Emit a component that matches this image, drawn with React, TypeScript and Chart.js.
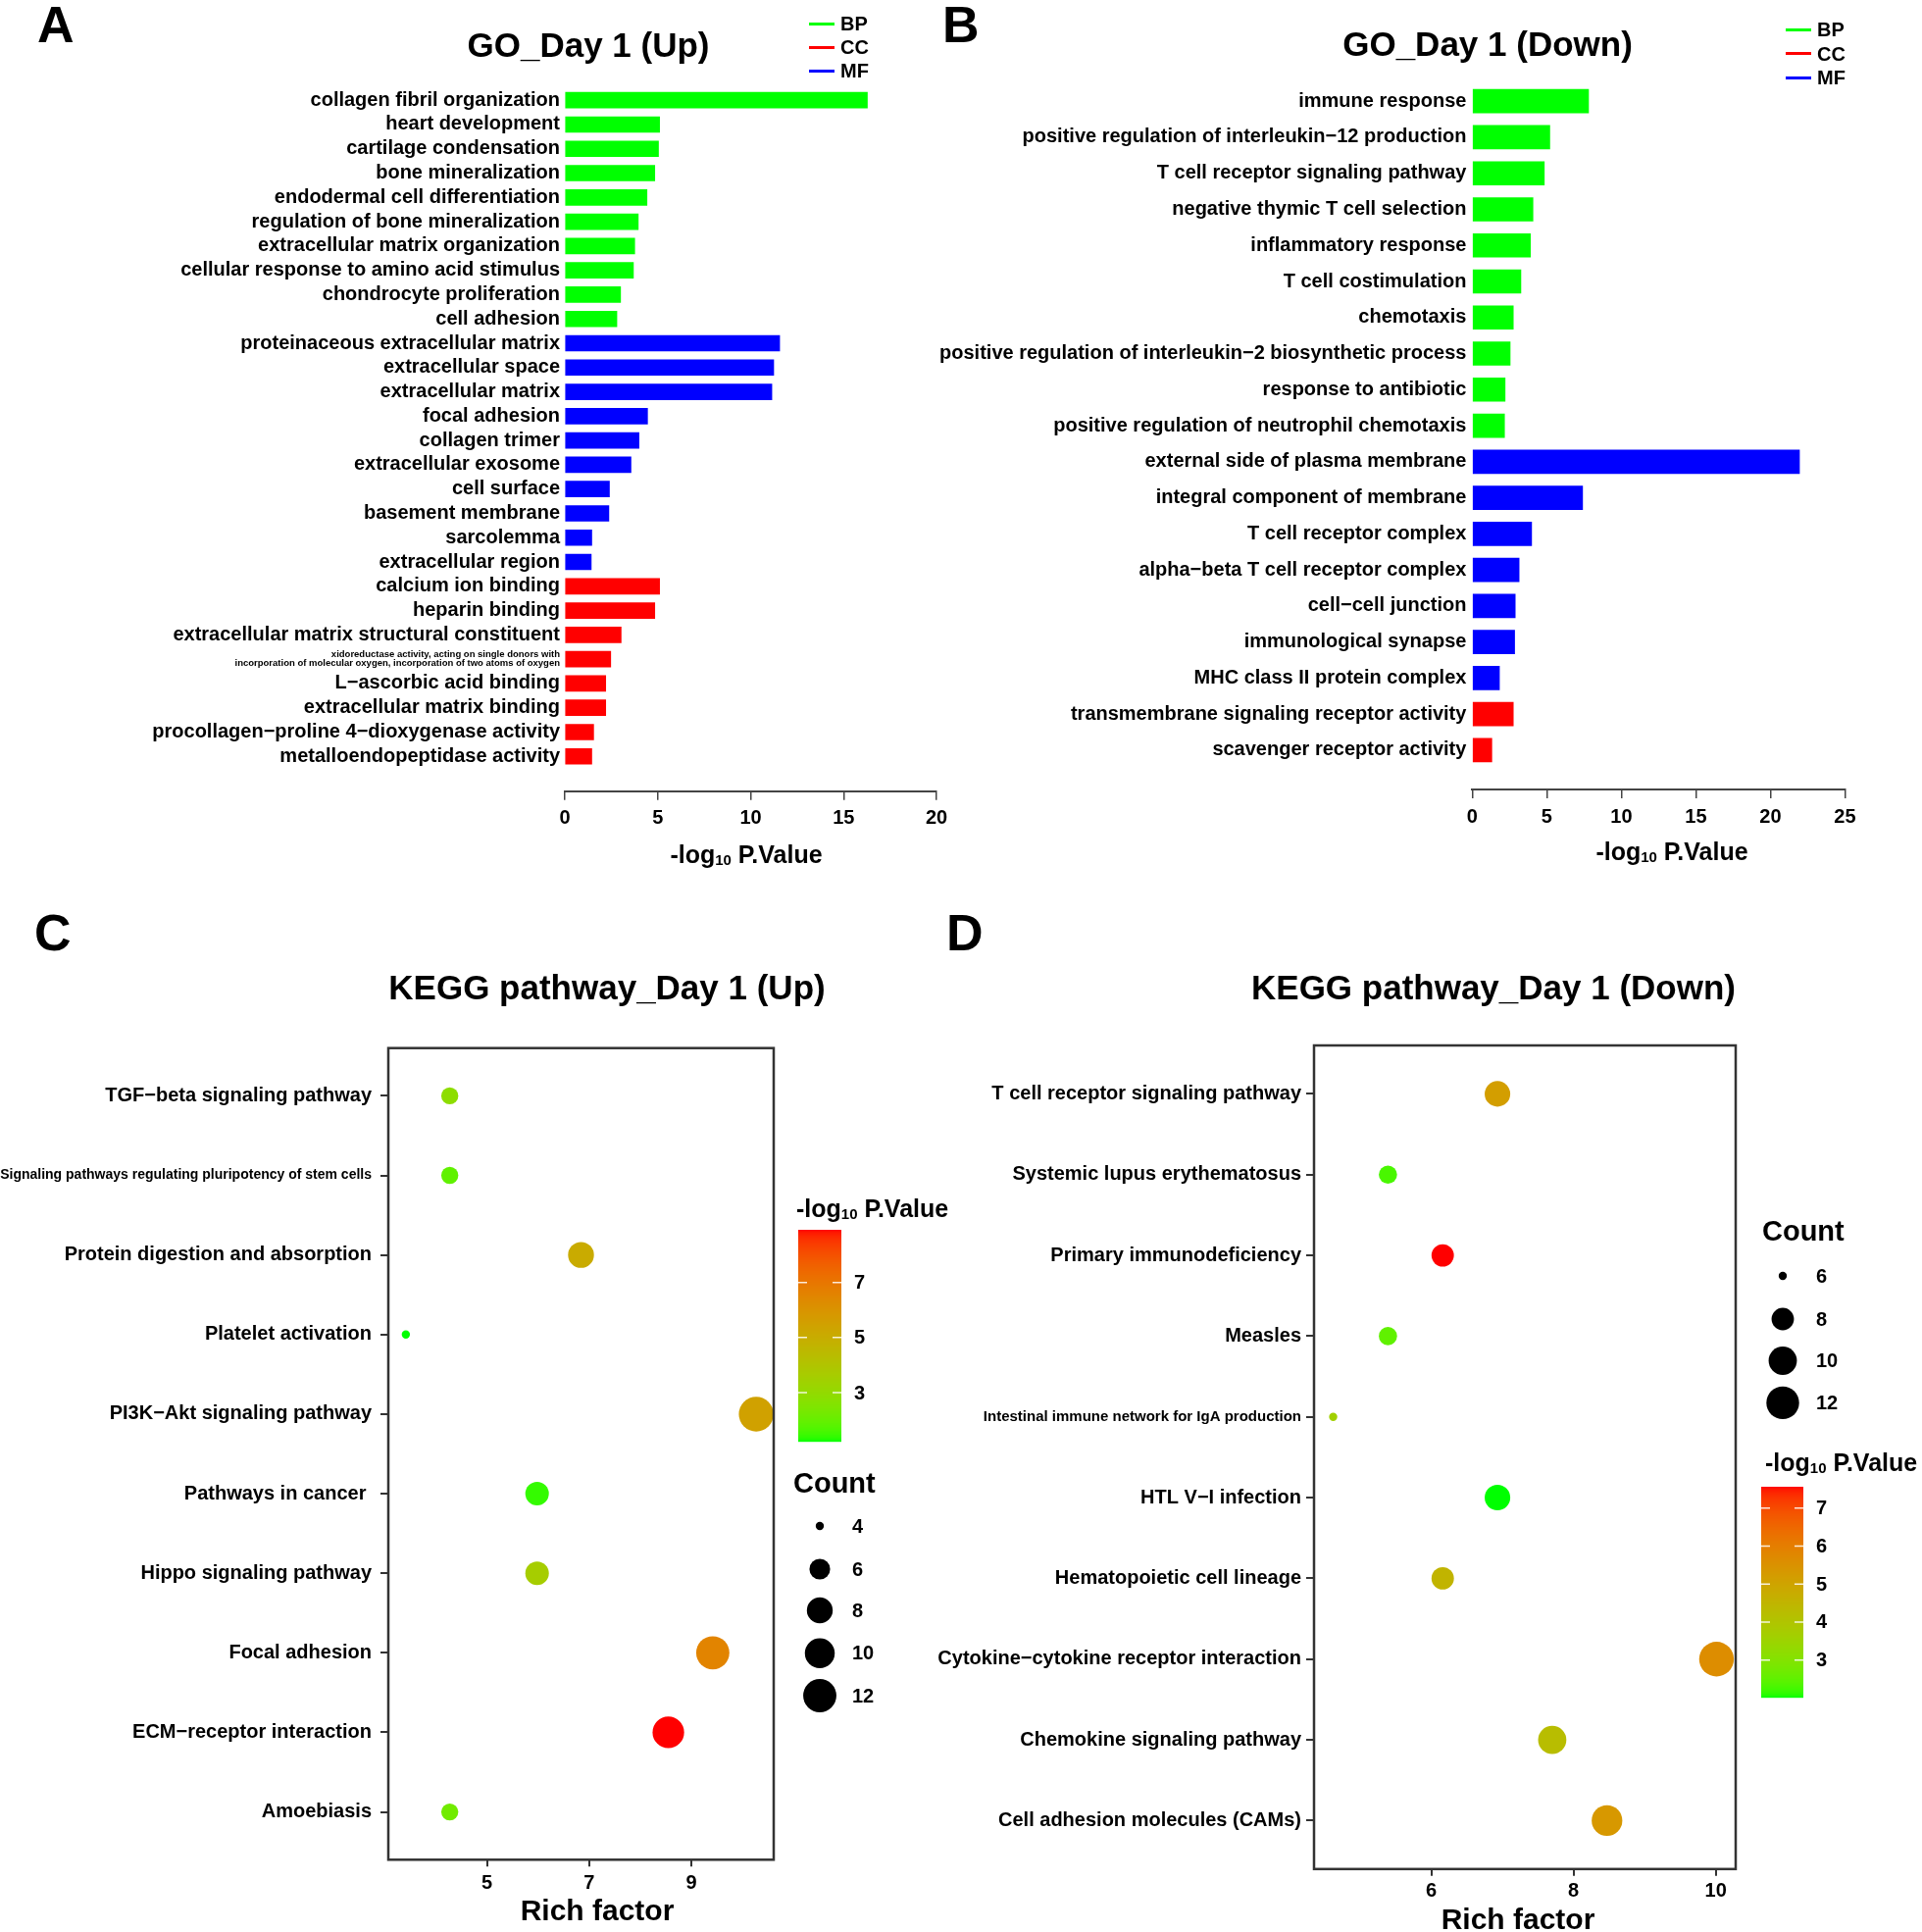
import React, { useEffect, useRef } from "react";
import { Chart, registerables } from "chart.js";
Chart.register(...registerables);

const FONT = '"Liberation Sans", Arial, Helvetica, sans-serif';

// ---------------- Panel A: GO Day 1 (Up) ----------------
const goUpTerms = [
  "collagen fibril organization",
  "heart development",
  "cartilage condensation",
  "bone mineralization",
  "endodermal cell differentiation",
  "regulation of bone mineralization",
  "extracellular matrix organization",
  "cellular response to amino acid stimulus",
  "chondrocyte proliferation",
  "cell adhesion",
  "proteinaceous extracellular matrix",
  "extracellular space",
  "extracellular matrix",
  "focal adhesion",
  "collagen trimer",
  "extracellular exosome",
  "cell surface",
  "basement membrane",
  "sarcolemma",
  "extracellular region",
  "calcium ion binding",
  "heparin binding",
  "extracellular matrix structural constituent",
  "xidoreductase activity, acting on single donors with\nincorporation of molecular oxygen, incorporation of two atoms of oxygen",
  "L\u2212ascorbic acid binding",
  "extracellular matrix binding",
  "procollagen\u2212proline 4\u2212dioxygenase activity",
  "metalloendopeptidase activity",
];
const goUpValues = [
  16.28, 5.1, 5.04, 4.84, 4.42, 3.95, 3.76, 3.69, 3.0, 2.8,
  11.56, 11.24, 11.14, 4.45, 3.99, 3.56, 2.4, 2.37, 1.45, 1.42,
  5.1, 4.84, 3.03, 2.47, 2.2, 2.2, 1.55, 1.45,
];
const goUpGroups = [
  "BP", "BP", "BP", "BP", "BP", "BP", "BP", "BP", "BP", "BP",
  "MF", "MF", "MF", "MF", "MF", "MF", "MF", "MF", "MF", "MF",
  "CC", "CC", "CC", "CC", "CC", "CC", "CC", "CC",
];
const goUpTicks = [0, 5, 10, 15, 20];

// ---------------- Panel B: GO Day 1 (Down) ----------------
const goDownTerms = [
  "immune response",
  "positive regulation of interleukin\u221212 production",
  "T cell receptor signaling pathway",
  "negative thymic T cell selection",
  "inflammatory response",
  "T cell costimulation",
  "chemotaxis",
  "positive regulation of interleukin\u22122 biosynthetic process",
  "response to antibiotic",
  "positive regulation of neutrophil chemotaxis",
  "external side of plasma membrane",
  "integral component of membrane",
  "T cell receptor complex",
  "alpha\u2212beta T cell receptor complex",
  "cell\u2212cell junction",
  "immunological synapse",
  "MHC class II protein complex",
  "transmembrane signaling receptor activity",
  "scavenger receptor activity",
];
const goDownValues = [
  7.8, 5.2, 4.83, 4.07, 3.9, 3.26, 2.75, 2.54, 2.2, 2.16,
  21.95, 7.4, 3.98, 3.14, 2.88, 2.84, 1.82,
  2.75, 1.31,
];
const goDownGroups = [
  "BP", "BP", "BP", "BP", "BP", "BP", "BP", "BP", "BP", "BP",
  "MF", "MF", "MF", "MF", "MF", "MF", "MF",
  "CC", "CC",
];
const goDownTicks = [0, 5, 10, 15, 20, 25];

const goLegendGroups = ["BP", "CC", "MF"];
const GROUP_COLORS: Record<string, string> = { BP: "#00ff00", CC: "#ff0000", MF: "#0000ff" };

// ---------------- Panel C: KEGG Day 1 (Up) ----------------
const keggUpPathways = [
  "TGF\u2212beta signaling pathway",
  "Signaling pathways regulating pluripotency of stem cells",
  "Protein digestion and absorption",
  "Platelet activation",
  "PI3K\u2212Akt signaling pathway",
  "Pathways in cancer ",
  "Hippo signaling pathway",
  "Focal adhesion",
  "ECM\u2212receptor interaction",
  "Amoebiasis",
];
const keggUpRich = [4.27, 4.27, 6.84, 3.41, 10.27, 5.98, 5.98, 9.42, 8.55, 4.27];
const keggUpCount = [5, 5, 8, 4, 13, 7, 7, 12, 11, 5];
const keggUpLogP = [2.84, 1.9, 5.07, 1.22, 5.45, 1.42, 3.6, 6.53, 8.91, 2.2];
const keggUpXTicks = [5, 7, 9];
const keggUpColorTicks = [3, 5, 7];
const keggUpCountBreaks = [4, 6, 8, 10, 12];

// ---------------- Panel D: KEGG Day 1 (Down) ----------------
const keggDownPathways = [
  "T cell receptor signaling pathway",
  "Systemic lupus erythematosus",
  "Primary immunodeficiency",
  "Measles",
  "Intestinal immune network for IgA production",
  "HTL V\u2212I infection",
  "Hematopoietic cell lineage",
  "Cytokine\u2212cytokine receptor interaction",
  "Chemokine signaling pathway",
  "Cell adhesion molecules (CAMs)",
];
const keggDownRich = [6.93, 5.39, 6.16, 5.39, 4.62, 6.93, 6.16, 10.01, 7.7, 8.47];
const keggDownCount = [9, 7, 8, 7, 6, 9, 8, 13, 10, 11];
const keggDownLogP = [5.17, 2.29, 7.56, 2.51, 3.62, 2.01, 4.51, 5.62, 4.23, 5.34];
const keggDownXTicks = [6, 8, 10];
const keggDownColorTicks = [3, 4, 5, 6, 7];
const keggDownCountBreaks = [6, 8, 10, 12];

// ---------------- colour & size scales ----------------
const toLin = (c: number) => {
  const s = c / 255;
  return s <= 0.04045 ? s / 12.92 : Math.pow((s + 0.055) / 1.055, 2.4);
};
const toSrgb = (l: number) => {
  const v = l <= 0.0031308 ? 12.92 * l : 1.055 * Math.pow(Math.max(l, 0), 1 / 2.4) - 0.055;
  return Math.round(Math.max(0, Math.min(1, v)) * 255);
};
const WX = 0.95047, WZ = 1.08883;
function rgbToLab(r: number, g: number, b: number) {
  const R = toLin(r), G = toLin(g), B = toLin(b);
  const X = (0.4124564 * R + 0.3575761 * G + 0.1804375 * B) / WX;
  const Y = 0.2126729 * R + 0.7151522 * G + 0.072175 * B;
  const Z = (0.0193339 * R + 0.119192 * G + 0.9503041 * B) / WZ;
  const f = (t: number) => (t > 216 / 24389 ? Math.cbrt(t) : ((24389 / 27) * t + 16) / 116);
  const fx = f(X), fy = f(Y), fz = f(Z);
  return [116 * fy - 16, 500 * (fx - fy), 200 * (fy - fz)];
}
function labToRgb(L: number, a: number, b: number) {
  const fy = (L + 16) / 116, fx = fy + a / 500, fz = fy - b / 200;
  const inv = (t: number) => (t * t * t > 216 / 24389 ? t * t * t : (116 * t - 16) / (24389 / 27));
  const X = inv(fx) * WX, Y = inv(fy), Z = inv(fz) * WZ;
  const R = 3.2404542 * X - 1.5371385 * Y - 0.4985314 * Z;
  const G = -0.969266 * X + 1.8760108 * Y + 0.041556 * Z;
  const B = 0.0556434 * X - 0.2040259 * Y + 1.0572252 * Z;
  return [toSrgb(R), toSrgb(G), toSrgb(B)];
}
const LAB_LOW = rgbToLab(0, 255, 0);
const LAB_HIGH = rgbToLab(255, 0, 0);
function gradientColor(v: number, min: number, max: number) {
  const t = Math.max(0, Math.min(1, (v - min) / (max - min)));
  const L = LAB_LOW[0] + (LAB_HIGH[0] - LAB_LOW[0]) * t;
  const A = LAB_LOW[1] + (LAB_HIGH[1] - LAB_LOW[1]) * t;
  const B = LAB_LOW[2] + (LAB_HIGH[2] - LAB_LOW[2]) * t;
  const [r, g, b] = labToRgb(L, A, B);
  return `rgb(${r},${g},${b})`;
}
const R_MIN = 4.2, R_MAX = 17.7;
function sizeFor(c: number, cmin: number, cmax: number) {
  const t = Math.max(0, Math.min(1, (c - cmin) / (cmax - cmin)));
  return R_MIN + (R_MAX - R_MIN) * Math.sqrt(t);
}

const boldFont = (size: number, lineHeight?: number) => ({ family: FONT, size, weight: "bold" as const, lineHeight: lineHeight ?? 1.2 });

// ---------------- GO bar chart ----------------
function makeGo(canvas: HTMLCanvasElement, o: any) {
  const { terms, values, groups, ticks, xMax, yMax, yWidth, padTop, padRight, xHeight, barThickness, labelPad, tickPad } = o;
  return new Chart(canvas, {
    type: "bar",
    data: {
      datasets: [
        {
          data: values.map((v: number, i: number) => ({ x: v, y: i })),
          backgroundColor: groups.map((g: string) => GROUP_COLORS[g]),
          borderWidth: 0,
          barThickness,
        } as any,
      ],
    },
    options: {
      indexAxis: "y",
      animation: false,
      responsive: false,
      devicePixelRatio: 1,
      layout: { padding: { left: 0, right: padRight, top: padTop, bottom: 0 } },
      plugins: { legend: { display: false }, tooltip: { enabled: false }, title: { display: false } },
      scales: {
        y: {
          type: "linear",
          min: -0.5,
          max: yMax,
          reverse: true,
          offset: false,
          afterBuildTicks: (s: any) => {
            s.ticks = terms.map((_: string, i: number) => ({ value: i }));
          },
          afterFit: (s: any) => {
            s.width = yWidth;
          },
          ticks: {
            autoSkip: false,
            padding: labelPad,
            color: "#000",
            callback: (_v: any, i: number) => {
              const t = terms[i] || "";
              return t.includes("\n") ? t.split("\n") : t;
            },
            font: (ctx: any) => {
              const t = terms[ctx.index] || "";
              return t.includes("\n") ? boldFont(9.5, 0.9) : boldFont(20);
            },
          },
          grid: { display: false, drawTicks: false },
          border: { display: false },
        } as any,
        x: {
          type: "linear",
          min: 0,
          max: xMax,
          afterBuildTicks: (s: any) => {
            s.ticks = ticks.map((v: number) => ({ value: v }));
          },
          afterFit: (s: any) => {
            s.height = xHeight;
          },
          ticks: { color: "#000", font: boldFont(20), padding: tickPad, maxRotation: 0, autoSkip: false },
          grid: { display: true, drawOnChartArea: false, drawTicks: true, tickLength: 9, color: "#444", lineWidth: 1.5 },
          border: { display: true, color: "#444", width: 2 },
        } as any,
      },
    },
  });
}

// ---------------- KEGG bubble chart ----------------
function makeKegg(canvas: HTMLCanvasElement, o: any) {
  const { labels, rich, counts, logp, xTicks, colorTicks, countBreaks, yWidth, padTop, padRight, xHeight, smallLabelSize, yLabelPad, xTickPad, legend } = o;
  const pMin = Math.min(...logp), pMax = Math.max(...logp);
  const cMin = Math.min(...counts), cMax = Math.max(...counts);
  const xLo = Math.min(...rich), xHi = Math.max(...rich), span = xHi - xLo;

  const framePlugin = {
    id: "frame",
    afterDatasetsDraw(chart: any) {
      const { left, top, width, height } = chart.chartArea;
      const ctx = chart.ctx;
      ctx.save();
      ctx.strokeStyle = "#333";
      ctx.lineWidth = 2.5;
      ctx.strokeRect(left, top, width, height);
      ctx.restore();
    },
  };
  const legendPlugin = {
    id: "keggLegend",
    afterDraw(chart: any) {
      const ctx = chart.ctx;
      const { barX, barY, barW, barH, labelX, countX, countLabelX, countYs } = legend;
      ctx.save();
      for (let p = 0; p < barH; p++) {
        const v = pMax - ((p + 0.5) / barH) * (pMax - pMin);
        ctx.fillStyle = gradientColor(v, pMin, pMax);
        ctx.fillRect(barX, barY + p, barW, 1.2);
      }
      ctx.strokeStyle = "rgba(255,255,255,0.85)";
      ctx.lineWidth = 1.5;
      ctx.fillStyle = "#000";
      ctx.font = `bold 20px ${FONT}`;
      ctx.textBaseline = "middle";
      ctx.textAlign = "left";
      colorTicks.forEach((t: number) => {
        const y = barY + ((pMax - t) / (pMax - pMin)) * barH;
        ctx.beginPath();
        ctx.moveTo(barX, y);
        ctx.lineTo(barX + 9, y);
        ctx.moveTo(barX + barW - 9, y);
        ctx.lineTo(barX + barW, y);
        ctx.stroke();
        ctx.fillText(String(t), labelX, y + 1);
      });
      countBreaks.forEach((c: number, i: number) => {
        const y = countYs[i];
        ctx.beginPath();
        ctx.arc(countX, y, sizeFor(c, cMin, cMax), 0, Math.PI * 2);
        ctx.fillStyle = "#000";
        ctx.fill();
        ctx.fillText(String(c), countLabelX, y + 1);
      });
      ctx.restore();
    },
  };

  return new Chart(canvas, {
    type: "scatter",
    data: {
      datasets: [
        {
          data: rich.map((x: number, i: number) => ({ x, y: i })),
          pointRadius: (ctx: any) => sizeFor(counts[ctx.dataIndex], cMin, cMax),
          pointHoverRadius: (ctx: any) => sizeFor(counts[ctx.dataIndex], cMin, cMax),
          pointBackgroundColor: (ctx: any) => gradientColor(logp[ctx.dataIndex], pMin, pMax),
          pointBorderWidth: 0,
          clip: false,
        } as any,
      ],
    },
    options: {
      animation: false,
      responsive: false,
      devicePixelRatio: 1,
      layout: { padding: { left: 0, right: padRight, top: padTop, bottom: 0 } },
      plugins: { legend: { display: false }, tooltip: { enabled: false }, title: { display: false } },
      scales: {
        y: {
          type: "linear",
          min: -0.6,
          max: labels.length - 1 + 0.6,
          reverse: true,
          afterBuildTicks: (s: any) => {
            s.ticks = labels.map((_: string, i: number) => ({ value: i }));
          },
          afterFit: (s: any) => {
            s.width = yWidth;
          },
          ticks: {
            autoSkip: false,
            padding: yLabelPad,
            color: "#000",
            callback: (_v: any, i: number) => labels[i],
            font: (ctx: any) => ((labels[ctx.index] || "").length > 40 ? boldFont(smallLabelSize) : boldFont(20)),
          },
          grid: { display: true, drawOnChartArea: false, drawTicks: true, tickLength: 8, color: "#333", lineWidth: 2 },
          border: { display: false },
        } as any,
        x: {
          type: "linear",
          min: xLo - span * 0.05,
          max: xHi + span * 0.05,
          afterBuildTicks: (s: any) => {
            s.ticks = xTicks.map((v: number) => ({ value: v }));
          },
          afterFit: (s: any) => {
            s.height = xHeight;
          },
          ticks: { color: "#000", font: boldFont(20), padding: xTickPad, maxRotation: 0, autoSkip: false },
          grid: { display: true, drawOnChartArea: false, drawTicks: true, tickLength: 7, color: "#333", lineWidth: 2 },
          border: { display: false },
        } as any,
      },
    },
    plugins: [framePlugin, legendPlugin],
  });
}

// ---------------- HTML text helpers ----------------
function Txt(props: { x: number; cy: number; size: number; center?: boolean; children: any }) {
  const { x, cy, size, center, children } = props;
  return (
    <div
      style={{
        position: "absolute",
        left: x,
        top: cy - size / 2,
        fontSize: size,
        lineHeight: `${size}px`,
        fontWeight: "bold",
        whiteSpace: "nowrap",
        transform: center ? "translateX(-50%)" : undefined,
      }}
    >
      {children}
    </div>
  );
}
const LogP = () => (
  <>
    -log<span style={{ fontSize: 15, verticalAlign: "-0.12em" }}>10</span> P.Value
  </>
);
function GoLegend(props: { lineX: number; textX: number; ys: number[] }) {
  return (
    <>
      {goLegendGroups.map((g, i) => (
        <React.Fragment key={g}>
          <div style={{ position: "absolute", left: props.lineX, top: props.ys[i] - 1.5, width: 26, height: 3, background: GROUP_COLORS[g] }} />
          <Txt x={props.textX} cy={props.ys[i]} size={20}>
            {g}
          </Txt>
        </React.Fragment>
      ))}
    </>
  );
}

export default function App() {
  const aRef = useRef<HTMLCanvasElement>(null);
  const bRef = useRef<HTMLCanvasElement>(null);
  const cRef = useRef<HTMLCanvasElement>(null);
  const dRef = useRef<HTMLCanvasElement>(null);

  useEffect(() => {
    const charts = [
      makeGo(aRef.current!, {
        terms: goUpTerms, values: goUpValues, groups: goUpGroups, ticks: goUpTicks,
        xMax: 20, yMax: 28.43, yWidth: 576, padTop: 89.8, padRight: 25, xHeight: 93.3,
        barThickness: 16, labelPad: 5, tickPad: 7,
      }),
      makeGo(bRef.current!, {
        terms: goDownTerms, values: goDownValues, groups: goDownGroups, ticks: goDownTicks,
        xMax: 25, yMax: 19.09, yWidth: 561.4, padTop: 84.8, padRight: 78.6, xHeight: 95,
        barThickness: 24, labelPad: 6, tickPad: 7,
      }),
      makeKegg(cRef.current!, {
        labels: keggUpPathways, rich: keggUpRich, counts: keggUpCount, logp: keggUpLogP,
        xTicks: keggUpXTicks, colorTicks: keggUpColorTicks, countBreaks: keggUpCountBreaks,
        yWidth: 396, padTop: 148.7, padRight: 191, xHeight: 73.7, smallLabelSize: 14, yLabelPad: 9, xTickPad: 5,
        legend: { barX: 814, barY: 334, barW: 44, barH: 216, labelX: 871, countX: 836, countLabelX: 869, countYs: [636, 680, 722, 765.7, 809] },
      }),
      makeKegg(dRef.current!, {
        labels: keggDownPathways, rich: keggDownRich, counts: keggDownCount, logp: keggDownLogP,
        xTicks: keggDownXTicks, colorTicks: keggDownColorTicks, countBreaks: keggDownCountBreaks,
        yWidth: 400, padTop: 146, padRight: 190, xHeight: 64.2, smallLabelSize: 15, yLabelPad: 5, xTickPad: 4,
        legend: { barX: 856, barY: 596, barW: 43, barH: 215, labelX: 912, countX: 878, countLabelX: 912, countYs: [381, 425, 467.5, 510.4] },
      }),
    ];
    return () => charts.forEach((c) => c.destroy());
  }, []);

  const cv = (left: number, top: number, w: number, h: number) => ({ position: "absolute" as const, left, top, width: w, height: h });

  return (
    <div style={{ position: "absolute", left: 0, top: 0, width: 1960, height: 1970, background: "#fff", fontFamily: FONT, color: "#000", overflow: "hidden" }}>
      <canvas ref={aRef} width={980} height={900} style={cv(0, 0, 980, 900)} />
      <canvas ref={bRef} width={1020} height={900} style={cv(940, 0, 1020, 900)} />
      <canvas ref={cRef} width={980} height={1050} style={cv(0, 920, 980, 1050)} />
      <canvas ref={dRef} width={1020} height={1050} style={cv(940, 920, 1020, 1050)} />

      <Txt x={38} cy={25} size={52}>A</Txt>
      <Txt x={961} cy={25} size={52}>B</Txt>
      <Txt x={35} cy={951} size={52}>C</Txt>
      <Txt x={965} cy={951} size={52}>D</Txt>

      <Txt x={600} cy={45} size={35} center>GO_Day 1 (Up)</Txt>
      <Txt x={1517} cy={44} size={35} center>GO_Day 1 (Down)</Txt>
      <Txt x={619} cy={1006} size={35} center>KEGG pathway_Day 1 (Up)</Txt>
      <Txt x={1523} cy={1006} size={35} center>KEGG pathway_Day 1 (Down)</Txt>

      <GoLegend lineX={825} textX={857} ys={[24, 48, 72]} />
      <GoLegend lineX={1821} textX={1853} ys={[30, 54.5, 79]} />

      <Txt x={761} cy={871} size={25} center><LogP /></Txt>
      <Txt x={1705} cy={868} size={25} center><LogP /></Txt>

      <Txt x={812} cy={1232} size={25}><LogP /></Txt>
      <Txt x={1800} cy={1491} size={25}><LogP /></Txt>
      <Txt x={809} cy={1512} size={29}>Count</Txt>
      <Txt x={1797} cy={1255} size={29}>Count</Txt>
      <Txt x={609} cy={1948} size={30} center>Rich factor</Txt>
      <Txt x={1548} cy={1957} size={30} center>Rich factor</Txt>
    </div>
  );
}
